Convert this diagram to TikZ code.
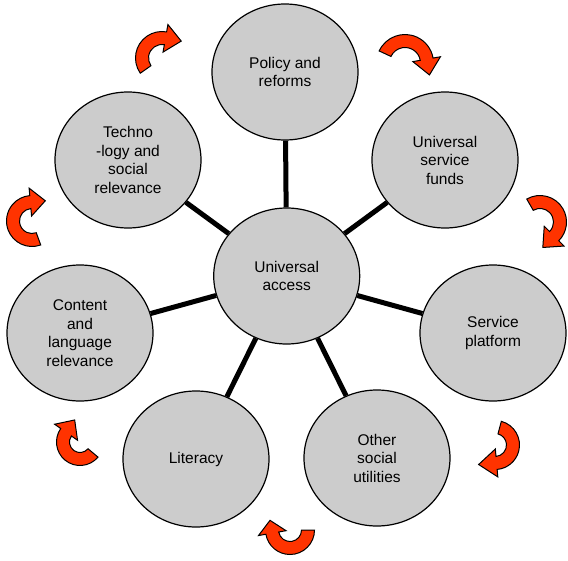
\documentclass[tikz,border=0pt]{standalone}
\usepackage{fontspec}
\setmainfont{Liberation Sans}
\usetikzlibrary{shapes.geometric,calc}
\definecolor{bubblegray}{HTML}{CCCCCC}
\definecolor{arrowred}{HTML}{FF3300}
% curved block arrow: cx, cy, R, start angle, end angle, half band width, half head width, head length
\newcommand\carrow[8]{%
  \draw[curarrow] ($(#1,#2)+(#4:{#3+#6})$) arc[start angle=#4, end angle=#5, radius={#3+#6}]
    -- ($(#1,#2)+(#5:{#3+#7})$)
    -- ($(#1,#2)+(#5:#3)+({#5+90}:#8)$)
    -- ($(#1,#2)+(#5:{#3-#7})$)
    -- ($(#1,#2)+(#5:{#3-#6})$)
    arc[start angle=#5, end angle=#4, radius={#3-#6}] -- cycle;}
\begin{document}
\begin{tikzpicture}[x=1pt,y=-1pt,
  bubble/.style={ellipse, draw=black, line width=1.2pt, fill=bubblegray,
    minimum width=146pt, minimum height=136pt, inner sep=0pt, align=center,
    font=\fontsize{15.5}{18.5}\selectfont},
  spoke/.style={line width=5pt},
  curarrow/.style={fill=arrowred, draw=black, line width=1pt, line join=miter}]
\useasboundingbox (0,0) rectangle (568,560);
\node[bubble] (ua) at (286.7,276) {Universal\\access};
\node[bubble] (pol) at (285,72) {Policy and\\reforms};
\node[bubble] (usf) at (445,160) {Universal\\service\\funds};
\node[bubble] (sp) at (493,333) {Service\\platform};
\node[bubble] (osu) at (377,458) {Other\\social\\utilities};
\node[bubble] (lit) at (196,459) {Literacy};
\node[bubble] (clr) at (80,333) {Content\\and\\language\\relevance};
\node[bubble] (tech) at (128,160) {Techno\\-logy and\\social\\relevance};
\foreach \n in {pol,usf,sp,osu,lit,clr,tech}
  \draw[spoke] (ua) -- (\n);
\carrow{162}{58}{20}{145}{280}{6.5}{14}{16}
\carrow{405}{63}{22}{205}{350}{6.5}{14}{16}
\carrow{540}{222}{20}{240}{405}{6.5}{14}{16}
\carrow{495}{445}{18}{-75}{85}{6.5}{14}{18}
\carrow{290}{530}{18}{0}{170}{6.5}{14}{13}
\carrow{80}{442}{17}{40}{215}{6.5}{14}{15}
\carrow{32}{221}{19}{70}{265}{6.5}{14}{15}
\end{tikzpicture}
\end{document}
